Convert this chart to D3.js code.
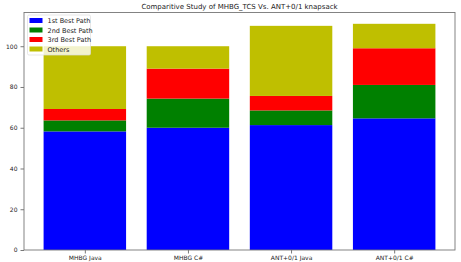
<!DOCTYPE html>
<html>
<head>
<meta charset="utf-8">
<style>
  body { margin: 0; background: #fff; }
  text { font-family: "DejaVu Sans", sans-serif; }
</style>
</head>
<body>
<svg width="461" height="262"></svg>
<script src="https://cdn.jsdelivr.net/npm/d3@7"></script>
<script>
var categories = ["MHBG Java", "MHBG C#", "ANT+0/1 Java", "ANT+0/1 C#"];
var seriesNames = ["1st Best Path", "2nd Best Path", "3rd Best Path", "Others"];
var best1 = [58.2, 60.0, 61.3, 64.6];
var best2 = [5.4, 14.3, 7.2, 16.4];
var best3 = [5.6, 14.7, 7.1, 18.0];
var others = [30.8, 11.0, 34.4, 12.0];
var yTicks = [0, 20, 40, 60, 80, 100];
var colors = ["#0000ff", "#008000", "#ff0000", "#bfbf00"];

var svg = d3.select("svg"),
    margin = {top: 12.5, right: 6, bottom: 12, left: 24},
    width = +svg.attr("width") - margin.left - margin.right,
    height = +svg.attr("height") - margin.top - margin.bottom,
    g = svg.append("g").attr("transform", "translate(" + margin.left + "," + margin.top + ")");

var rows = categories.map(function(c, i) {
    return {cat: i, b1: best1[i], b2: best2[i], b3: best3[i], o: others[i]};
});
var stack = d3.stack().keys(["b1", "b2", "b3", "o"]);
var layers = stack(rows);

var maxTotal = d3.max(layers[3], function(d) { return d[1]; });

var x = d3.scaleLinear()
    .domain([-0.59, categories.length - 1 + 0.59])
    .range([0, width]);

var y = d3.scaleLinear()
    .domain([0, maxTotal * 1.05])
    .range([height, 0]);

var barW = 0.8;

g.selectAll("g.layer")
    .data(layers)
  .enter().append("g")
    .attr("class", "layer")
    .attr("fill", function(d, i) { return colors[i]; })
  .selectAll("rect")
    .data(function(d) { return d; })
  .enter().append("rect")
    .attr("x", function(d) { return x(d.data.cat - barW / 2); })
    .attr("width", function(d) { return x(barW) - x(0); })
    .attr("y", function(d) { return y(d[1]); })
    .attr("height", function(d) { return y(d[0]) - y(d[1]); });

// axes
var yAxis = g.append("g")
    .call(d3.axisLeft(y).tickValues(yTicks).tickSize(3.5).tickPadding(3));
var xAxis = g.append("g")
    .attr("transform", "translate(0," + height + ")")
    .call(d3.axisBottom(x).tickValues(d3.range(categories.length))
        .tickFormat(function(i) { return categories[i]; }).tickSize(3.5).tickPadding(2));

[yAxis, xAxis].forEach(function(a) {
    a.select(".domain").remove();
    a.selectAll("line").attr("stroke", "#555").attr("stroke-width", 0.8);
    a.selectAll("text").attr("font-size", 6).attr("fill", "#222")
        .attr("font-family", "DejaVu Sans, sans-serif");
});

// spines
g.append("rect")
    .attr("x", 0).attr("y", 0)
    .attr("width", width).attr("height", height)
    .attr("fill", "none")
    .attr("stroke", "#777")
    .attr("stroke-width", 0.9);

// title
svg.append("text")
    .attr("x", margin.left + width / 2)
    .attr("y", 9)
    .attr("text-anchor", "middle")
    .attr("font-size", 7)
    .attr("fill", "#222")
    .text("Comparitive Study of MHBG_TCS Vs. ANT+0/1 knapsack");

// legend
var legend = g.append("g").attr("transform", "translate(3.5,2.5)");
legend.append("rect")
    .attr("width", 63).attr("height", 40)
    .attr("rx", 1.5)
    .attr("fill", "#fff").attr("fill-opacity", 0.8)
    .attr("stroke", "#ddd").attr("stroke-width", 0.7);
var item = legend.selectAll("g.item")
    .data(seriesNames)
  .enter().append("g")
    .attr("class", "item")
    .attr("transform", function(d, i) { return "translate(2," + (3 + i * 9.5) + ")"; });
item.append("rect")
    .attr("width", 13).attr("height", 5)
    .attr("fill", function(d, i) { return colors[i]; });
item.append("text")
    .attr("x", 18).attr("y", 5)
    .attr("font-size", 6.5)
    .attr("fill", "#222")
    .text(function(d) { return d; });
</script>
</body>
</html>
